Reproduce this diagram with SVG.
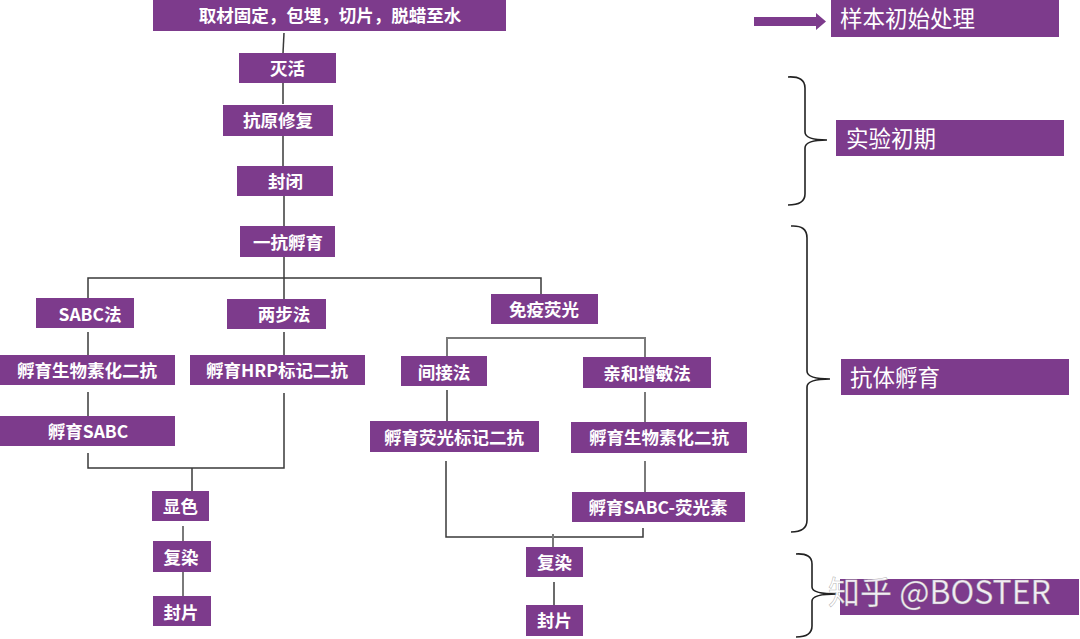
<svg xmlns="http://www.w3.org/2000/svg" width="1080" height="639" viewBox="0 0 1080 639">
<style>
.box{fill:#7d3b8c}
.t{font-family:"Noto Sans CJK SC","Noto Sans",sans-serif;font-weight:bold;font-size:17.5px;fill:#ffffff;text-anchor:middle;dominant-baseline:central}
.lt{font-family:"Noto Sans CJK SC","Noto Sans",sans-serif;font-weight:normal;font-size:22.5px;fill:#ffffff;dominant-baseline:central}
.c{stroke:#3a3a3a;stroke-width:1.5;fill:none}
.cg{stroke:#7a7a7a;stroke-width:2;fill:none}
.br{stroke:#222;stroke-width:1.6;fill:none}
.wm{font-family:"Noto Sans CJK SC","Noto Sans",sans-serif;font-size:32px;fill:#ffffff;fill-opacity:0.92;stroke:#888;stroke-width:0.6;stroke-opacity:0.6}
</style>
<rect width="1080" height="639" fill="#ffffff"/>
<g id="connectors">
<line class="c" x1="284" y1="33" x2="283" y2="53"/>
<line class="c" x1="283" y1="83" x2="283" y2="104"/>
<line class="c" x1="283" y1="136" x2="283" y2="166"/>
<line class="c" x1="284" y1="196" x2="284" y2="226"/>
<line class="c" x1="284" y1="257" x2="284" y2="299"/>
<polyline class="c" points="88,298 88,278 541,278 541,294"/>
<line class="c" x1="88" y1="332" x2="88" y2="355"/>
<line class="c" x1="88" y1="392" x2="88" y2="416"/>
<line class="c" x1="284" y1="332" x2="284" y2="355"/>
<polyline class="c" points="88,453 88,468 284,468 284,393"/>
<line class="c" x1="192" y1="468" x2="192" y2="491"/>
<line class="cg" x1="183" y1="526" x2="183" y2="541"/>
<line class="cg" x1="183" y1="572" x2="183" y2="596"/>
<polyline class="cg" points="447,356 447,338 645,338 645,357"/>
<line class="c" x1="447" y1="390" x2="447" y2="421"/>
<line class="cg" x1="645" y1="392" x2="645" y2="422"/>
<line class="cg" x1="645" y1="461" x2="645" y2="492"/>
<polyline class="c" points="446,461 446,537 643,537 643,528"/>
<line class="cg" x1="553" y1="534" x2="553" y2="547"/>
<line class="c" x1="554" y1="582" x2="554" y2="605"/>
</g>
<g id="n-top"><rect class="box" x="153" y="0" width="353" height="31"/><text class="t" x="330" y="14">取材固定，包埋，切片，脱蜡至水</text></g>
<g id="n-miehuo"><rect class="box" x="239" y="53" width="97" height="30"/><text class="t" x="287.5" y="67.5">灭活</text></g>
<g id="n-kangyuan"><rect class="box" x="223" y="105" width="110" height="31"/><text class="t" x="278" y="119.5">抗原修复</text></g>
<g id="n-fengbi"><rect class="box" x="237" y="166" width="96" height="30"/><text class="t" x="285.5" y="180">封闭</text></g>
<g id="n-yikang"><rect class="box" x="240" y="226" width="95" height="31"/><text class="t" x="288" y="241">一抗孵育</text></g>
<g id="n-sabc"><rect class="box" x="36" y="298" width="98" height="30"/><text class="t" x="90" y="313">SABC法</text></g>
<g id="n-liangbu"><rect class="box" x="227" y="299" width="99" height="30"/><text class="t" x="284" y="313">两步法</text></g>
<g id="n-shengwu1"><rect class="box" x="0" y="355" width="175" height="30"/><text class="t" x="87" y="369">孵育生物素化二抗</text></g>
<g id="n-hrp"><rect class="box" x="190" y="355" width="175" height="30"/><text class="t" x="277" y="369">孵育HRP标记二抗</text></g>
<g id="n-fuyusabc"><rect class="box" x="0" y="416" width="175" height="30"/><text class="t" x="88" y="430">孵育SABC</text></g>
<g id="n-xianse"><rect class="box" x="152" y="491" width="57" height="30"/><text class="t" x="180.5" y="505">显色</text></g>
<g id="n-fudo1"><rect class="box" x="153" y="541" width="58" height="31"/><text class="t" x="181" y="556">复染</text></g>
<g id="n-fengpian1"><rect class="box" x="153" y="596" width="58" height="30"/><text class="t" x="181" y="611">封片</text></g>
<g id="n-mianyi"><rect class="box" x="491" y="294" width="107" height="30"/><text class="t" x="544" y="308">免疫荧光</text></g>
<g id="n-jianjie"><rect class="box" x="401" y="356" width="86" height="30"/><text class="t" x="444" y="371">间接法</text></g>
<g id="n-qinhe"><rect class="box" x="583" y="357" width="128" height="31"/><text class="t" x="647" y="372">亲和增敏法</text></g>
<g id="n-yingguang"><rect class="box" x="370" y="421" width="169" height="31"/><text class="t" x="454" y="436">孵育荧光标记二抗</text></g>
<g id="n-shengwu2"><rect class="box" x="571" y="422" width="176" height="31"/><text class="t" x="659" y="436">孵育生物素化二抗</text></g>
<g id="n-sabcyg"><rect class="box" x="572" y="492" width="173" height="30"/><text class="t" x="658" y="506">孵育SABC-荧光素</text></g>
<g id="n-furan2"><rect class="box" x="526" y="547" width="57" height="30"/><text class="t" x="554.5" y="561">复染</text></g>
<g id="n-fengpian2"><rect class="box" x="526" y="605" width="57" height="31"/><text class="t" x="554.5" y="619">封片</text></g>
<g id="legend-arrow"><path fill="#7d3b8c" d="M754,17 L816,17 L816,13 L826,21.5 L816,30 L816,26 L754,26 Z"/></g>
<g id="l-yangben"><rect class="box" x="831" y="0" width="228" height="37"/><text class="lt" x="840" y="17">样本初始处理</text></g>
<g id="brace1"><path class="br" d="M788,77 Q805,76 805,88 L805,132 Q805,140 827,140 Q805,140 805,148 L805,194 Q805,205 788,205"/></g>
<g id="l-shiyan"><rect class="box" x="836" y="120" width="228" height="36"/><text class="lt" x="846" y="137">实验初期</text></g>
<g id="brace2"><path class="br" d="M791,226 Q807,225 807,238 L807,371 Q807,379 830,379 Q807,379 807,387 L807,520 Q807,532 791,532"/></g>
<g id="l-kangti"><rect class="box" x="841" y="359" width="228" height="36"/><text class="lt" x="850" y="376">抗体孵育</text></g>
<g id="brace3"><path class="br" d="M796,554 Q812,553 812,564 L812,587 Q812,594 837,594 Q812,594 812,601 L812,626 Q812,637 796,637"/></g>
<g id="l-last"><rect class="box" x="840" y="579" width="239" height="36"/></g>
<text class="wm" x="828" y="604">知乎 @BOSTER</text>
</svg>
